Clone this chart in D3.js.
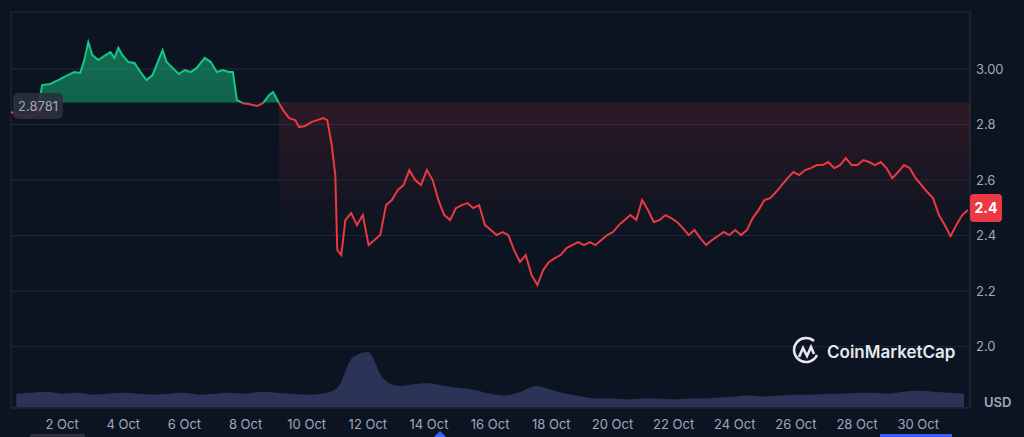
<!DOCTYPE html>
<html><head><meta charset="utf-8">
<script src="https://cdn.jsdelivr.net/npm/d3@7"></script>
<style>body{margin:0;background:#0d1421;font-family:Inter,"Noto Sans",sans-serif}</style>
</head><body><svg id="chart" width="1024" height="437"></svg>
<script>
// price samples; the first ones carry their own times (day of October), the rest are evenly spaced until 31 Oct 15:00
var prices = [2.845,2.834,2.827,2.838,2.942,2.946,2.960,2.975,2.989,2.986,3.032,3.097,3.050,3.032,3.047,3.061,3.040,3.076,3.050,3.025,
  3.022,2.989,2.960,2.978,3.032,3.068,3.025,3.004,2.982,2.996,2.989,3.004,3.040,3.025,2.989,2.996,2.989,2.989,2.888,2.877,
  2.874,2.867,2.877,2.906,2.917,2.877,2.852,2.823,2.816,2.791,2.795,2.809,2.816,2.823,2.816,2.726,2.618,2.348,2.330,2.456,
  2.481,2.438,2.474,2.366,2.384,2.402,2.510,2.528,2.564,2.582,2.636,2.600,2.582,2.636,2.600,2.528,2.474,2.456,2.499,2.510,
  2.517,2.499,2.510,2.438,2.420,2.402,2.413,2.402,2.348,2.305,2.330,2.258,2.222,2.276,2.305,2.319,2.330,2.355,2.366,2.377,
  2.366,2.377,2.366,2.384,2.402,2.413,2.438,2.456,2.474,2.456,2.528,2.492,2.449,2.456,2.474,2.463,2.449,2.427,2.402,2.420,
  2.391,2.366,2.384,2.398,2.413,2.402,2.420,2.402,2.420,2.463,2.492,2.528,2.535,2.557,2.582,2.607,2.629,2.618,2.636,2.643,
  2.654,2.654,2.665,2.643,2.654,2.679,2.654,2.654,2.672,2.665,2.654,2.665,2.643,2.607,2.629,2.654,2.643,2.607,2.582,2.557,
  2.535,2.474,2.438,2.398,2.438,2.474,2.492];
var earlyDays = [0.327,0.622,0.951,1.181,1.345,1.608,1.870,2.133,2.396,2.593,2.724,2.855,2.987,3.184,3.381,3.578,3.709,3.841,3.972,4.169,
  4.366,4.563,4.760,4.957,5.154,5.286,5.417,5.614,5.811,6.008,6.205,6.402,6.665,6.862,7.059,7.256,7.453,7.584,7.716,7.913,
  8.110,8.373,8.570,8.767,8.898,9.095,9.227,9.424,9.621,9.752,9.949,10.146,10.343,10.540,10.672,10.819,10.934,11.000,11.131,11.263];
var lastDay = 31.63;
// volume, every 12 hours from 30 Sep 12:00 (millions USD)
var volumes = [14,15,16,14,15,13,14,15,14,13,14,15,13,14,15,14,16,15,14,13,14,20,52,58,30,22,24,25,22,20,
  18,14,12,16,22,18,14,11,9,9,8,9,9,8,9,9,10,11,12,11,12,13,13,14,14,15,15,14,16,17,16,15,14];
var yTicks = [2.0, 2.2, 2.4, 2.6, 2.8, 3.0];
var xTickDays = [2,4,6,8,10,12,14,16,18,20,22,24,26,28,30];
var baseline = 2.8781, lastPrice = '2.4';

function dayToDate(d) { return new Date(+new Date(2024, 8, 30) + d * 864e5) }
var svg = d3.select('#chart');
var x = d3.scaleTime().domain([dayToDate(0.327), dayToDate(lastDay)]).range([11, 968]);
var y = d3.scaleLinear().domain([1.9, 3.0]).range([374.5, 69]);
var yv = d3.scaleLinear().domain([0, 60]).range([407, 350]);
var nLate = prices.length - earlyDays.length;
var d0 = earlyDays[earlyDays.length - 1];
var pts = prices.map(function(v, i) {
  var d = i < earlyDays.length ? earlyDays[i] : d0 + (lastDay - d0) * (i - earlyDays.length + 1) / nLate;
  return { t: dayToDate(d), v: v };
});
var vpts = volumes.map(function(v, i) { return { t: dayToDate(0.5 + i * 0.5), v: v } });

// grid
svg.selectAll('.grid').data(yTicks).enter().append('line')
  .attr('x1', 11).attr('x2', 970).attr('y1', function(d) { return y(d) }).attr('y2', function(d) { return y(d) })
  .attr('stroke', '#222a38').attr('stroke-width', 1);
svg.append('line').attr('x1', 11).attr('x2', 970).attr('y1', 12).attr('y2', 12).attr('stroke', '#222a38');
svg.append('line').attr('x1', 970).attr('x2', 970).attr('y1', 12).attr('y2', 408).attr('stroke', '#2a3240');
svg.append('line').attr('x1', 11).attr('x2', 11).attr('y1', 12).attr('y2', 408).attr('stroke', '#222a38');
svg.append('line').attr('x1', 11).attr('x2', 970).attr('y1', 408).attr('y2', 408).attr('stroke', '#2a3240');

var defs = svg.append('defs');
var gg = defs.append('linearGradient').attr('id', 'gg').attr('x1', 0).attr('x2', 0).attr('y1', 0).attr('y2', 1);
gg.append('stop').attr('offset', '0%').attr('stop-color', '#16c784').attr('stop-opacity', 0.5);
gg.append('stop').attr('offset', '100%').attr('stop-color', '#16c784').attr('stop-opacity', 0.25);
var rg = defs.append('linearGradient').attr('id', 'rg').attr('x1', 0).attr('x2', 0).attr('y1', 0).attr('y2', 1);
rg.append('stop').attr('offset', '0%').attr('stop-color', '#ea3943').attr('stop-opacity', 0.14);
rg.append('stop').attr('offset', '100%').attr('stop-color', '#ea3943').attr('stop-opacity', 0);
defs.append('clipPath').attr('id', 'above').append('rect').attr('x', 0).attr('y', 0).attr('width', 1024).attr('height', y(baseline));
defs.append('clipPath').attr('id', 'below').append('rect').attr('x', 0).attr('y', y(baseline)).attr('width', 1024).attr('height', 400);

// volume
svg.append('path').datum(vpts)
  .attr('d', d3.area().x(function(d) { return x(d.t) }).y0(407).y1(function(d) { return yv(d.v) }).curve(d3.curveMonotoneX))
  .attr('fill', '#2b3457');

// price fills
svg.append('path').datum(pts).attr('clip-path', 'url(#above)')
  .attr('d', d3.area().x(function(d) { return x(d.t) }).y0(y(baseline)).y1(function(d) { return y(d.v) }))
  .attr('fill', 'url(#gg)');
svg.append('rect').attr('x', x(dayToDate(9.1))).attr('y', y(baseline))
  .attr('width', 970 - x(dayToDate(9.1))).attr('height', y(2.4) - y(baseline)).attr('fill', 'url(#rg)');
var line = d3.line().x(function(d) { return x(d.t) }).y(function(d) { return y(d.v) });
svg.append('path').datum(pts).attr('d', line).attr('clip-path', 'url(#above)')
  .attr('fill', 'none').attr('stroke', '#16c784').attr('stroke-width', 2);
svg.append('path').datum(pts).attr('d', line).attr('clip-path', 'url(#below)')
  .attr('fill', 'none').attr('stroke', '#ea3943').attr('stroke-width', 2);

// y labels
svg.selectAll('.yl').data(yTicks).enter().append('text')
  .attr('x', 976).attr('y', function(d) { return y(d) + 4.5 })
  .attr('fill', '#a1a7bb').attr('font-size', 13).text(function(d) { return d.toFixed(d >= 3 ? 2 : 1) });
svg.append('text').attr('x', 984).attr('y', 407).attr('fill', '#a1a7bb').attr('font-size', 13).attr('font-weight', 600).text('USD');

// x labels
svg.selectAll('.xl').data(xTickDays).enter().append('text')
  .attr('x', function(d) { return x(dayToDate(d)) }).attr('y', 429)
  .attr('text-anchor', 'middle').attr('fill', '#a1a7bb').attr('font-size', 13).text(function(d) { return d + ' Oct' });

// baseline label
svg.append('rect').attr('x', 13).attr('y', 93).attr('width', 50).attr('height', 26).attr('rx', 5).attr('fill', '#2b303c').attr('opacity', 0.9);
svg.append('text').attr('x', 38).attr('y', 111).attr('text-anchor', 'middle').attr('fill', '#a1a7bb').attr('font-size', 13).text(baseline);

// last price tag
svg.append('rect').attr('x', 970).attr('y', 194).attr('width', 32).attr('height', 28).attr('rx', 4).attr('fill', '#ea3943');
svg.append('text').attr('x', 986).attr('y', 213).attr('text-anchor', 'middle').attr('fill', '#fff').attr('font-size', 14).attr('font-weight', 700).text(lastPrice);

// watermark
var wm = svg.append('g').attr('transform', 'translate(805,352)');
wm.append('path').attr('d', 'M 9 -11 A 12 12 0 1 0 12 3').attr('fill', 'none').attr('stroke', '#e6e8ee').attr('stroke-width', 2.6);
wm.append('path').attr('d', 'M -6 5 L -2 -4 L 2 4 L 6 -5 L 9 2').attr('fill', 'none').attr('stroke', '#e6e8ee').attr('stroke-width', 2.6);
wm.append('text').attr('x', 22).attr('y', 6).attr('fill', '#e6e8ee').attr('font-size', 17).attr('font-weight', 600).text('CoinMarketCap');

// bottom markers
svg.append('path').attr('d', 'M434 437 L440 431 L446 437 Z').attr('fill', '#3861fb');
svg.append('rect').attr('x', 880).attr('y', 434).attr('width', 72).attr('height', 3).attr('fill', '#3861fb');
svg.append('rect').attr('x', 30).attr('y', 434).attr('width', 55).attr('height', 3).attr('fill', '#2b303c');
</script></body></html>
